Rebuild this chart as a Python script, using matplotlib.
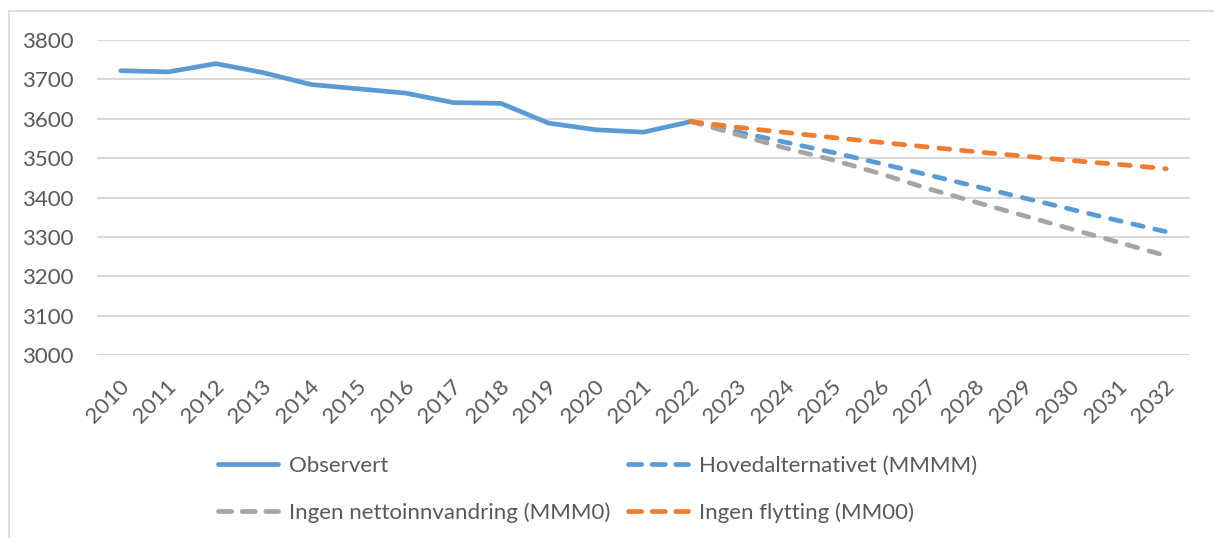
import matplotlib.pyplot as plt
from matplotlib.patches import Rectangle
from matplotlib.lines import Line2D
import matplotlib.transforms as mtransforms

plt.rcParams['font.family'] = ['Lato', 'DejaVu Sans']

years_obs = [2010, 2011, 2012, 2013, 2014, 2015, 2016, 2017, 2018, 2019, 2020, 2021, 2022]
observert = [3722, 3719, 3740, 3717, 3687, 3676, 3665, 3641, 3639, 3589, 3572, 3566, 3593]

years_proj = [2022, 2023, 2024, 2025, 2026, 2027, 2028, 2029, 2030, 2031, 2032]
hoved = [3593, 3566, 3540, 3514, 3486, 3457, 3428, 3399, 3370, 3341, 3313]
ingen_netto = [3593, 3559, 3525, 3495, 3460, 3422, 3388, 3354, 3320, 3286, 3252]
ingen_flytting = [3593, 3578, 3565, 3552, 3540, 3528, 3516, 3505, 3494, 3484, 3473]

all_years = list(range(2010, 2033))

blue = '#5B9BD5'
orange = '#ED7D31'
grey = '#A5A5A5'
txt = '#595959'
grid = '#D9D9D9'

W, H = 1214, 538
fig = plt.figure(figsize=(W / 100, H / 100), dpi=100)
ax = fig.add_axes([97 / W, 1 - 355 / H, (1190 - 97) / W, (355 - 40) / H])

lw = 3.4
dash = (2.3, 2.5)
ax.plot(years_obs, observert, color=blue, lw=lw, solid_capstyle='round',
        solid_joinstyle='round')
ax.plot(years_proj, hoved, color=blue, lw=lw, dashes=dash, dash_capstyle='round')
ax.plot(years_proj, ingen_netto, color=grey, lw=lw, dashes=dash, dash_capstyle='round')
ax.plot(years_proj, ingen_flytting, color=orange, lw=lw, dashes=dash, dash_capstyle='round')

ax.set_xlim(2009.5, 2032.5)
ax.set_ylim(3000, 3800)
ax.set_yticks(range(3000, 3801, 100))
ax.set_xticks(all_years)
ax.set_xticklabels([str(y) for y in all_years], rotation=45, ha='right', va='top',
                   rotation_mode='anchor')
ax.yaxis.grid(True, color=grid, lw=1.5)
ax.set_axisbelow(True)
for s in ax.spines.values():
    s.set_visible(False)
ax.tick_params(axis='both', length=0, labelsize=16, labelcolor=txt)
ax.tick_params(axis='y', pad=17)
ax.tick_params(axis='x', pad=15)
offset = mtransforms.ScaledTranslation(-2 / 100, 0, fig.dpi_scale_trans)
for lbl in ax.get_xticklabels():
    lbl.set_transform(lbl.get_transform() + offset)

# legend proxies: 3 whole dashes per handle, like the original
ldash = (2.8, 2.2)
handles = [
    Line2D([], [], color=blue, lw=lw, solid_capstyle='round'),
    Line2D([], [], color=grey, lw=lw, dashes=ldash, dash_capstyle='round'),
    Line2D([], [], color=blue, lw=lw, dashes=ldash, dash_capstyle='round'),
    Line2D([], [], color=orange, lw=lw, dashes=ldash, dash_capstyle='round'),
]
labels = ['Observert', 'Ingen nettoinnvandring (MMM0)',
          'Hovedalternativet (MMMM)', 'Ingen flytting (MM00)']
leg = fig.legend(handles, labels, ncol=2, loc='upper left',
                 bbox_to_anchor=(218 / W, 1 - 456 / H),
                 frameon=False, fontsize=16, handlelength=2.7, handletextpad=0.5,
                 columnspacing=0.8, labelspacing=1.17, borderaxespad=0, borderpad=0)
for t in leg.get_texts():
    t.set_color(txt)

fig.patches.append(Rectangle((9 / W, -0.1), 1.2, 1 - 11 / H + 0.1, transform=fig.transFigure,
                             fill=False, edgecolor=grid, lw=1.2))

fig.savefig('out.png', dpi=100)
